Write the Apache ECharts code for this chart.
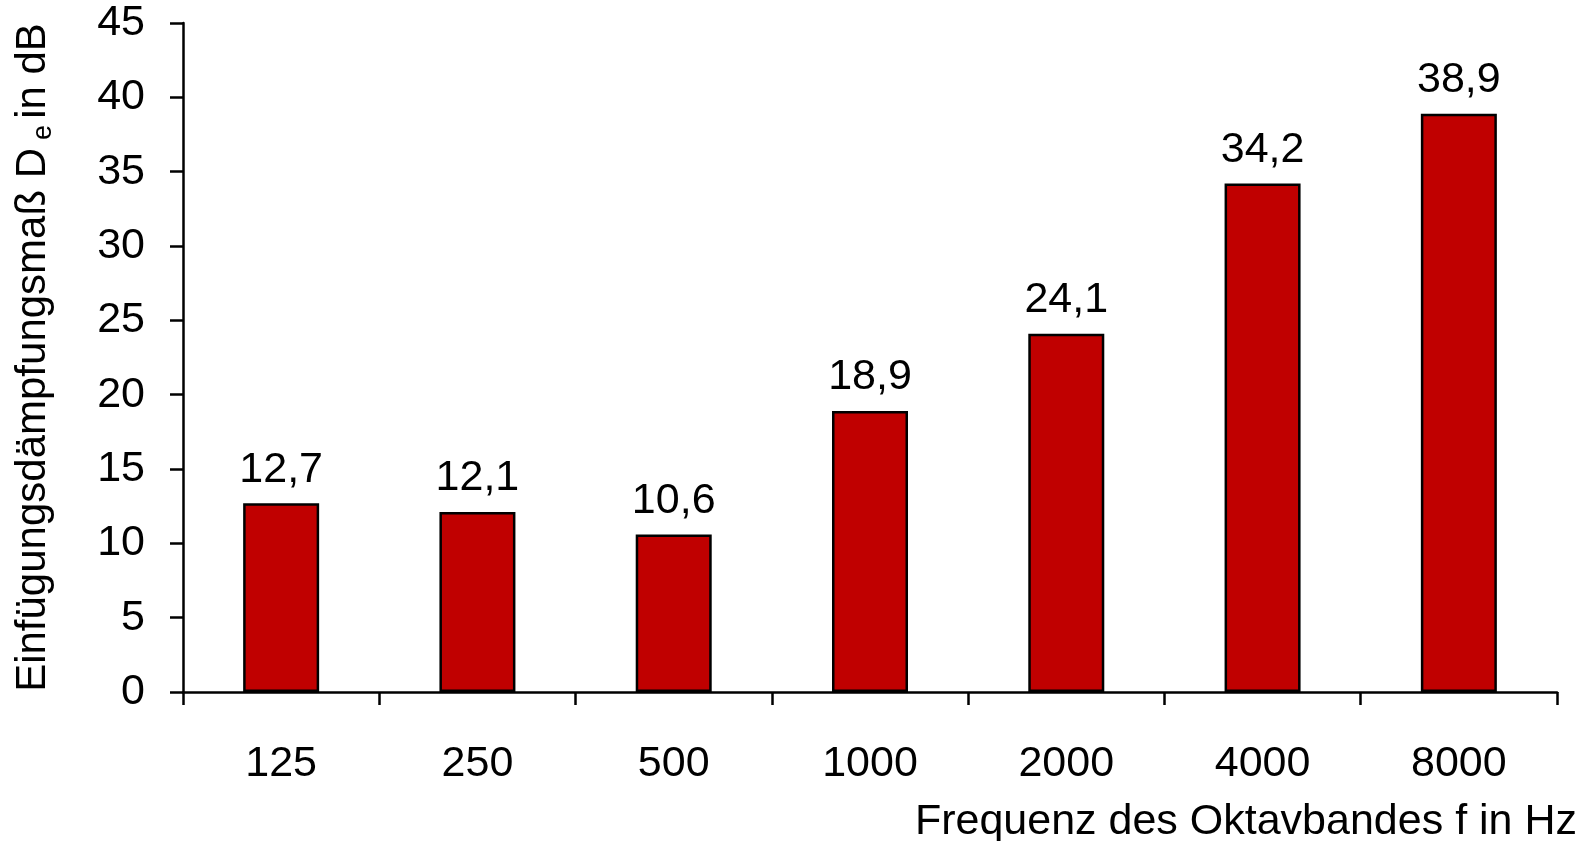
<!DOCTYPE html>
<html>
<head>
<meta charset="utf-8">
<script src="https://cdn.jsdelivr.net/npm/echarts@6/dist/echarts.min.js"></script>
<style>html,body{margin:0;padding:0;background:#fff}#c{width:1578px;height:841px}</style>
</head>
<body>
<div id="c"></div>
<script>
const categories = ['125', '250', '500', '1000', '2000', '4000', '8000'];
const values = [12.7, 12.1, 10.6, 18.9, 24.1, 34.2, 38.9];
const yTicks = [0, 5, 10, 15, 20, 25, 30, 35, 40, 45];

const FONT = '"Liberation Sans", Arial, sans-serif';
const FS = 43;
const chart = echarts.init(document.getElementById('c'));
chart.setOption({
  backgroundColor: '#fff',
  animation: false,
  grid: { left: 183, right: 21, top: 23, bottom: 149, containLabel: false, outerBoundsMode: 'none' },
  xAxis: {
    type: 'category',
    data: categories,
    boundaryGap: true,
    axisLine: { lineStyle: { color: '#000', width: 2.5 } },
    axisTick: { show: true, inside: false, length: 13, lineStyle: { color: '#000', width: 2.5 } },
    axisLabel: { color: '#000', fontFamily: FONT, fontSize: FS, margin: 51 },
    name: 'Frequenz des Oktavbandes f in Hz',
    nameLocation: 'end',
    nameGap: 20,
    nameTextStyle: { color: '#000', fontFamily: FONT, fontSize: 43, align: 'right', verticalAlign: 'top', padding: [109, 0, 0, 0] }
  },
  yAxis: {
    type: 'value',
    min: yTicks[0],
    max: yTicks[yTicks.length - 1],
    interval: 5,
    splitLine: { show: false },
    axisLine: { show: true, lineStyle: { color: '#000', width: 2.5 } },
    axisTick: { show: true, inside: false, length: 13, lineStyle: { color: '#000', width: 2.5 } },
    axisLabel: { color: '#000', fontFamily: FONT, fontSize: FS, margin: 38 },
    name: '{m|Einfügungsdämpfungsmaß D}{s|e}{m|in dB}',
    nameLocation: 'middle',
    nameGap: 126,
    nameRotate: 90,
    nameTextStyle: {
      color: '#000', fontFamily: FONT, fontSize: 42,
      rich: {
        m: { color: '#000', fontFamily: FONT, fontSize: 42, lineHeight: 48 },
        s: { color: '#000', fontFamily: FONT, fontSize: 27, lineHeight: 48, verticalAlign: 'bottom', padding: [14, 6, 0, 8] }
      }
    }
  },
  series: [{
    type: 'bar',
    data: values,
    barWidth: 76,
    itemStyle: { color: '#C00000', borderColor: '#000', borderWidth: 2.5 },
    label: {
      show: true,
      position: 'top',
      distance: 12,
      color: '#000',
      fontFamily: FONT,
      fontSize: FS,
      formatter: p => String(p.value).replace('.', ',')
    }
  }]
});
</script>
</body>
</html>
